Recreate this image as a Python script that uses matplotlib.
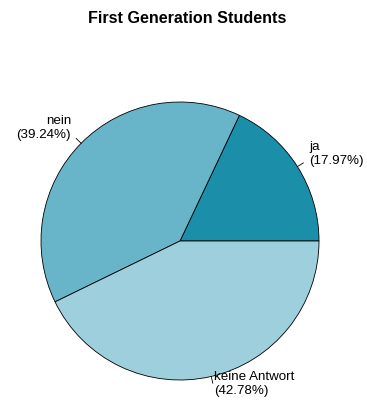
import numpy as np
import matplotlib
matplotlib.use("Agg")
import matplotlib.pyplot as plt

# Survey answers and their shares (percent)
categories = ["ja", "nein", "keine Antwort"]
shares = [17.97, 39.24, 42.78]
colors = ["#1b8fa9", "#68b4c9", "#9ecfdc"]
title = "First Generation Students"

W, H = 367, 403
fig = plt.figure(figsize=(W / 100, H / 100), dpi=100)
ax = fig.add_axes([0, 0, 1, 1])

cx, cy, r = 180, H - 241, 139
ax.pie(shares, colors=colors, startangle=0, counterclock=True,
       center=(cx, cy), radius=r,
       wedgeprops=dict(edgecolor="black", linewidth=0.6))
ax.set_xlim(0, W)
ax.set_ylim(0, H)
ax.set_aspect("equal")
ax.axis("off")

font = ["Liberation Sans", "DejaVu Sans"]
frac = np.cumsum([0] + shares) / sum(shares)
for i, lab in enumerate(categories):
    mid = np.pi * (frac[i] + frac[i + 1])
    c, s = np.cos(mid), np.sin(mid)
    ax.plot([cx + r * c, cx + 1.05 * r * c], [cy + r * s, cy + 1.05 * r * s],
            color="black", lw=0.6)
    ax.text(cx + 1.1 * r * c, cy + 1.1 * r * s + 5.5,
            f"{lab}\n({shares[i]:.2f}%)",
            ha="left" if c > 0 else "right", va="center",
            fontsize=9.6, family=font, linespacing=1.22)

fig.text(187 / W, 1 - 18.5 / H, title, ha="center", va="center",
         fontsize=11.6, fontweight="bold", family=font)

fig.savefig("out.png", dpi=100, facecolor="white")
